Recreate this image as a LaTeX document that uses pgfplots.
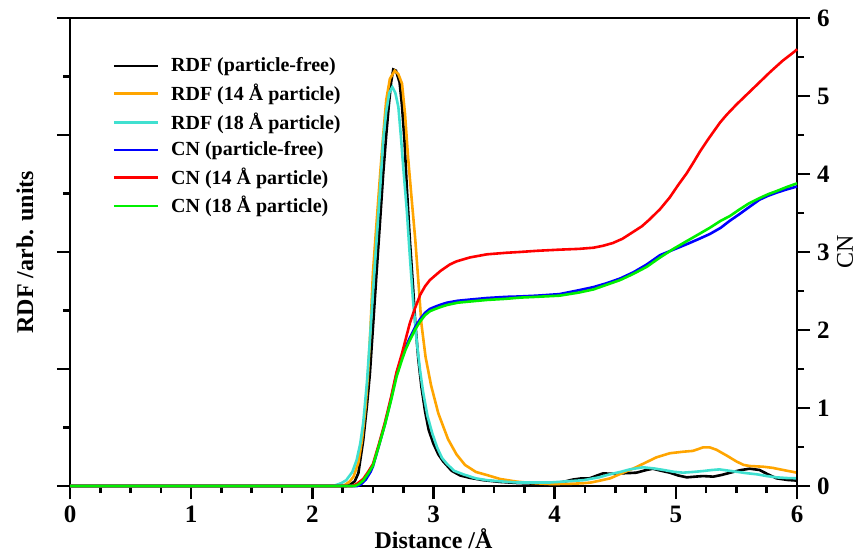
\documentclass[border=0pt]{standalone}
\usepackage{fontspec}
\setmainfont{Liberation Serif}
\usepackage{pgfplots}
\pgfplotsset{compat=1.18}

\definecolor{cOrange}{HTML}{FFA500}
\definecolor{cCyan}{HTML}{40E0D0}
\definecolor{cBlue}{HTML}{0000FF}
\definecolor{cRed}{HTML}{FF0000}
\definecolor{cGreen}{HTML}{00F000}

\pgfplotsset{
  common/.style={
    scale only axis, width=363.5pt, height=234pt,
    xmin=0, xmax=6, clip=false,
    tick align=outside,
    major tick length=6.5pt, minor tick length=3.5pt,
    every tick/.style={black, line width=1.3pt},
    axis line style={line width=1.4pt},
    /pgf/number format/assume math mode=true,
    tick label style={font=\fontsize{12.5}{14}\selectfont\bfseries},
    label style={font=\fontsize{12}{14}\selectfont\bfseries},
  },
  every axis plot/.append style={line width=1.3pt},
}

\begin{document}
\begin{tikzpicture}
\begin{axis}[common, name=a,
    ymin=0, ymax=4,
    xtick={0,1,2,3,4,5,6}, minor x tick num=3,
    xtick pos=bottom,
    ytick={0,1,2,3,4}, minor y tick num=1, yticklabels={},
    ytick pos=left,
    xlabel={Distance /Å},
    xlabel style={at={(axis description cs:0.5,-0.113)}, anchor=center},
    ylabel={RDF /arb. units},
    ylabel style={at={(axis description cs:-0.062,0.5)}, anchor=center},
]
% RDF particle-free
\addplot[black] coordinates {
(0,0) (2.28,0) (2.31,0.01) (2.35,0.04) (2.38,0.11) (2.42,0.39) (2.45,0.68)
(2.475,0.96) (2.50,1.35) (2.53,1.82) (2.56,2.28) (2.585,2.67) (2.61,3.00)
(2.63,3.24) (2.65,3.45) (2.668,3.56) (2.69,3.55) (2.72,3.45) (2.74,3.25)
(2.76,2.96) (2.78,2.55) (2.805,2.10) (2.83,1.72) (2.85,1.39) (2.875,1.08)
(2.90,0.85) (2.93,0.64) (2.96,0.48) (3.00,0.36) (3.04,0.27) (3.08,0.21)
(3.15,0.13) (3.22,0.09) (3.30,0.07) (3.41,0.05) (3.55,0.035) (3.70,0.025)
(3.85,0.02) (3.96,0.02) (4.05,0.03) (4.15,0.055) (4.22,0.065) (4.29,0.066)
(4.35,0.09) (4.40,0.108) (4.46,0.105) (4.52,0.108) (4.60,0.11) (4.675,0.114)
(4.75,0.135) (4.81,0.148) (4.88,0.13) (4.95,0.114) (5.02,0.09) (5.09,0.074)
(5.16,0.08) (5.225,0.085) (5.31,0.08) (5.38,0.095) (5.45,0.114) (5.53,0.135)
(5.61,0.148) (5.69,0.137) (5.76,0.10) (5.83,0.066) (5.92,0.052) (6.0,0.046)
};
% RDF 14 A
\addplot[cOrange] coordinates {
(0,0) (2.22,0) (2.27,0.01) (2.31,0.04) (2.34,0.08) (2.38,0.2) (2.41,0.39)
(2.44,0.68) (2.46,0.96) (2.48,1.35) (2.50,1.82) (2.53,2.25) (2.56,2.67)
(2.585,3.0) (2.61,3.30) (2.64,3.48) (2.68,3.55) (2.71,3.52) (2.74,3.44)
(2.765,3.18) (2.79,2.81) (2.82,2.45) (2.85,2.10) (2.875,1.75) (2.90,1.39)
(2.935,1.10) (2.98,0.86) (3.04,0.62) (3.12,0.40) (3.19,0.27) (3.26,0.18)
(3.35,0.12) (3.44,0.094) (3.55,0.06) (3.69,0.037) (3.82,0.025) (3.96,0.017)
(4.10,0.018) (4.23,0.023) (4.30,0.03) (4.37,0.045) (4.46,0.066) (4.565,0.114)
(4.65,0.15) (4.73,0.19) (4.84,0.245) (4.95,0.28) (5.06,0.293) (5.14,0.30)
(5.225,0.33) (5.28,0.33) (5.335,0.31) (5.42,0.26) (5.50,0.21) (5.56,0.18)
(5.61,0.171) (5.72,0.165) (5.80,0.155) (5.885,0.137) (6.0,0.114)
};
% RDF 18 A
\addplot[cCyan] coordinates {
(0,0) (2.17,0) (2.20,0.01) (2.24,0.025) (2.28,0.05) (2.33,0.12) (2.365,0.22)
(2.395,0.36) (2.42,0.54) (2.45,0.88) (2.475,1.25) (2.50,1.65) (2.53,2.10)
(2.56,2.55) (2.585,2.96) (2.61,3.2) (2.635,3.36) (2.66,3.41) (2.685,3.36)
(2.71,3.24) (2.73,3.0) (2.75,2.73) (2.78,2.35) (2.805,1.96) (2.83,1.60)
(2.86,1.25) (2.89,0.98) (2.915,0.80) (2.95,0.60) (2.99,0.45) (3.03,0.33)
(3.07,0.24) (3.11,0.19) (3.17,0.13) (3.245,0.10) (3.35,0.065) (3.44,0.05)
(3.55,0.04) (3.69,0.03) (3.80,0.03) (3.96,0.03) (4.10,0.04) (4.24,0.05)
(4.29,0.06) (4.37,0.075) (4.455,0.10) (4.54,0.12) (4.62,0.142) (4.73,0.16)
(4.82,0.15) (4.90,0.137) (4.98,0.122) (5.06,0.114) (5.14,0.12) (5.225,0.128)
(5.30,0.137) (5.36,0.142) (5.43,0.132) (5.50,0.122) (5.58,0.11) (5.67,0.10)
(5.75,0.085) (5.83,0.074) (5.92,0.068) (6.0,0.066)
};
\end{axis}

\begin{axis}[common,
    ymin=0, ymax=6,
    axis x line=none,
    axis y line*=right,
    ytick={0,1,2,3,4,5,6}, minor y tick num=1,
    ylabel={CN},
    ylabel style={at={(axis description cs:1.066,0.5)}, anchor=center, font=\fontsize{12}{14}\selectfont},
    legend style={at={(axis description cs:0.058,0.925)}, anchor=north west,
      draw=none, fill=none, font=\fontsize{10}{12}\selectfont\bfseries,
      row sep=0.6pt, inner sep=0pt},
    legend cell align=left,
    legend image code/.code={\draw[line width=1.3pt,#1] (0pt,0pt) -- (22pt,0pt); \path (26pt,0pt);},
]
\addlegendimage{black}
\addlegendentry{RDF (particle-free)}
\addlegendimage{cOrange}
\addlegendentry{RDF (14 Å particle)}
\addlegendimage{cCyan}
\addlegendentry{RDF (18 Å particle)}
% CN particle-free
\addplot[cBlue] coordinates {
(0,0) (2.37,0) (2.40,0.02) (2.44,0.08) (2.48,0.18) (2.50,0.25) (2.55,0.52)
(2.60,0.80) (2.65,1.12) (2.695,1.44) (2.74,1.66) (2.77,1.78) (2.805,1.90)
(2.85,2.04) (2.89,2.14) (2.93,2.22) (2.97,2.27) (3.0,2.29) (3.05,2.32)
(3.11,2.35) (3.2,2.375) (3.3,2.39) (3.44,2.41) (3.6,2.425) (3.71,2.43)
(3.85,2.44) (4.04,2.46) (4.2,2.51) (4.32,2.55) (4.43,2.60) (4.54,2.66)
(4.65,2.74) (4.76,2.84) (4.87,2.96) (4.98,3.03) (5.09,3.10) (5.18,3.16)
(5.28,3.23) (5.37,3.31) (5.445,3.40) (5.52,3.48) (5.60,3.57) (5.69,3.67)
(5.76,3.72) (5.83,3.76) (5.91,3.80) (6.0,3.84)
};
\addlegendentry{CN (particle-free)}
% CN 14 A
\addplot[cRed] coordinates {
(0,0) (2.33,0) (2.37,0.03) (2.42,0.09) (2.46,0.18) (2.50,0.28) (2.55,0.54)
(2.60,0.82) (2.65,1.14) (2.695,1.46) (2.74,1.70) (2.77,1.88) (2.805,2.09)
(2.85,2.29) (2.89,2.45) (2.93,2.56) (2.97,2.64) (3.0,2.68) (3.06,2.76)
(3.135,2.84) (3.19,2.88) (3.30,2.93) (3.44,2.97) (3.6,2.99) (3.71,3.00)
(3.85,3.015) (4.04,3.03) (4.2,3.04) (4.32,3.055) (4.40,3.08) (4.48,3.115)
(4.56,3.17) (4.65,3.26) (4.72,3.33) (4.785,3.42) (4.87,3.55) (4.95,3.70)
(5.02,3.86) (5.09,4.01) (5.15,4.16) (5.20,4.29) (5.26,4.43) (5.31,4.54)
(5.365,4.66) (5.42,4.76) (5.50,4.89) (5.58,5.01) (5.68,5.16) (5.78,5.31)
(5.88,5.45) (5.98,5.57) (6.0,5.60)
};
\addlegendentry{CN (14 Å particle)}
% CN 18 A
\addplot[cGreen] coordinates {
(0,0) (2.35,0) (2.38,0.02) (2.42,0.07) (2.46,0.16) (2.50,0.26) (2.55,0.52)
(2.60,0.79) (2.65,1.10) (2.695,1.40) (2.74,1.62) (2.77,1.75) (2.805,1.87)
(2.85,2.01) (2.89,2.11) (2.93,2.19) (2.97,2.24) (3.0,2.26) (3.05,2.29)
(3.11,2.32) (3.2,2.35) (3.3,2.365) (3.44,2.385) (3.6,2.40) (3.71,2.415)
(3.85,2.425) (4.04,2.44) (4.2,2.48) (4.32,2.52) (4.43,2.58) (4.54,2.64)
(4.65,2.72) (4.76,2.81) (4.87,2.93) (4.98,3.04) (5.09,3.14) (5.18,3.22)
(5.28,3.31) (5.37,3.40) (5.445,3.46) (5.52,3.54) (5.60,3.62) (5.69,3.69)
(5.76,3.74) (5.83,3.78) (5.91,3.83) (6.0,3.88)
};
\addlegendentry{CN (18 Å particle)}
\end{axis}
\pgfresetboundingbox
\path ([xshift=-35pt,yshift=-32.5pt]a.south west) rectangle ([xshift=30.5pt,yshift=9pt]a.north east);
\end{tikzpicture}
\end{document}
